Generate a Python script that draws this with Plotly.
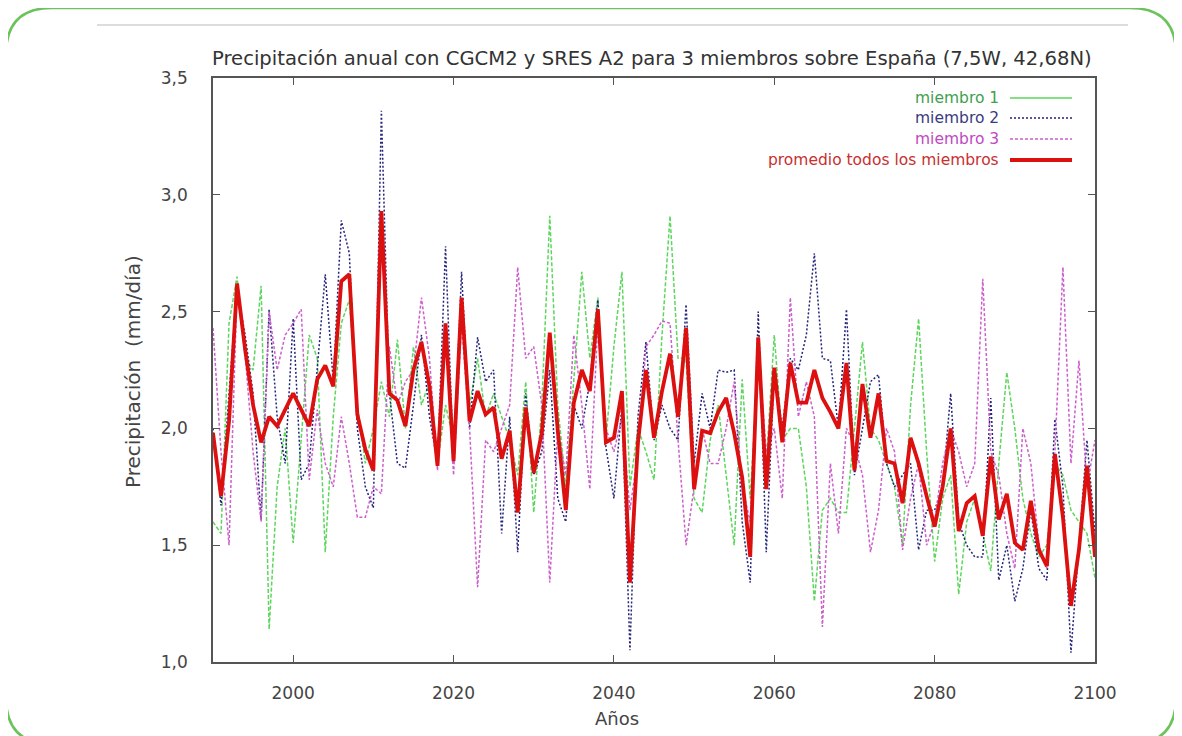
import plotly.graph_objects as go

years = list(range(1990, 2101))

miembro_1 = [1.60, 1.55, 2.45, 2.65, 2.30, 2.25, 2.61, 1.14, 1.75, 2.00,
             1.51, 1.95, 2.40, 2.30, 1.47, 2.05, 2.45, 2.55, 2.10, 1.85,
             2.00, 2.20, 2.05, 2.38, 2.00, 2.35, 2.10, 2.20, 1.85, 2.10,
             1.95, 2.55, 2.10, 2.30, 2.05, 2.15, 2.05, 1.95, 1.80, 2.20,
             1.64, 2.10, 2.91, 2.10, 1.75, 2.20, 2.67, 2.30, 2.56, 1.95,
             2.35, 2.67, 1.75, 2.00, 1.90, 1.78, 2.40, 2.91, 2.30, 2.30,
             1.70, 1.64, 1.95, 2.10, 1.80, 1.50, 2.21, 1.70, 2.30, 1.85,
             2.40, 1.95, 2.00, 2.00, 1.75, 1.26, 1.65, 1.70, 1.64, 1.64,
             2.00, 2.37, 2.00, 1.95, 1.85, 1.75, 1.50, 2.10, 2.47, 1.90,
             1.43, 1.70, 1.80, 1.29, 1.60, 1.70, 1.55, 1.39, 1.85, 2.24,
             2.00, 1.70, 1.55, 1.45, 1.50, 1.85, 1.80, 1.65, 1.60, 1.55,
             1.36]

miembro_2 = [2.00, 1.67, 2.15, 2.60, 2.40, 2.15, 1.61, 2.51, 2.05, 1.85,
             2.47, 1.78, 1.85, 2.25, 2.66, 2.20, 2.89, 2.75, 2.00, 1.75,
             1.66, 3.36, 2.15, 1.85, 1.83, 2.10, 2.40, 2.05, 1.85, 2.78,
             1.85, 2.67, 2.00, 2.39, 2.20, 2.25, 1.55, 2.05, 1.47, 2.15,
             1.80, 1.90, 2.25, 1.70, 1.60, 2.10, 2.00, 2.20, 2.55, 1.92,
             1.70, 2.10, 1.05, 2.05, 2.37, 1.95, 2.10, 2.00, 1.95, 2.53,
             1.85, 2.15, 2.00, 2.25, 2.24, 2.25, 1.60, 1.34, 2.50, 1.47,
             2.25, 2.00, 2.30, 2.25, 2.40, 2.75, 2.30, 2.29, 2.00, 2.51,
             1.80, 2.00, 2.20, 2.23, 1.85, 1.75, 1.80, 1.85, 1.48, 1.65,
             1.65, 1.75, 2.15, 1.60, 1.50, 1.45, 1.45, 2.13, 1.35, 1.50,
             1.26, 1.40, 1.65, 1.40, 1.35, 2.04, 1.75, 1.04, 1.50, 1.95,
             1.55]

miembro_3 = [2.43, 1.90, 1.50, 2.60, 2.32, 1.90, 1.60, 2.50, 2.25, 2.40,
             2.45, 2.51, 1.78, 2.08, 1.85, 1.75, 2.05, 1.85, 1.62, 1.62,
             1.75, 1.72, 2.35, 2.10, 2.20, 2.25, 2.56, 2.30, 1.82, 2.45,
             1.80, 2.45, 2.00, 1.32, 1.95, 1.90, 2.00, 2.10, 2.69, 2.30,
             2.35, 2.10, 1.34, 2.00, 1.80, 2.40, 2.10, 1.74, 2.45, 2.00,
             1.90, 2.05, 1.65, 1.90, 2.35, 2.40, 2.46, 2.45, 1.95, 1.50,
             1.75, 2.00, 1.85, 1.85, 2.00, 2.20, 1.75, 1.60, 2.35, 1.90,
             2.00, 1.70, 2.56, 2.05, 2.20, 2.05, 1.15, 1.85, 1.55, 2.00,
             1.93, 1.80, 1.47, 1.65, 2.00, 1.90, 1.48, 1.70, 1.85, 1.50,
             1.60, 1.85, 2.00, 1.90, 1.75, 1.85, 2.64, 1.90, 1.80, 1.55,
             1.40, 2.00, 1.85, 1.50, 1.40, 1.90, 2.69, 1.85, 2.29, 1.75,
             1.95]

promedio = [1.98, 1.71, 2.03, 2.62, 2.34, 2.10, 1.94, 2.05, 2.01, 2.08,
            2.15, 2.08, 2.01, 2.21, 2.27, 2.18, 2.63, 2.66, 2.06, 1.91,
            1.82, 2.93, 2.15, 2.12, 2.01, 2.25, 2.37, 2.18, 1.84, 2.45,
            1.86, 2.56, 2.03, 2.16, 2.06, 2.09, 1.87, 1.99, 1.64, 2.09,
            1.81, 1.98, 2.41, 1.99, 1.65, 2.11, 2.25, 2.16, 2.51, 1.94,
            1.96, 2.16, 1.34, 1.94, 2.25, 1.96, 2.16, 2.32, 2.05, 2.43,
            1.74, 1.99, 1.98, 2.07, 2.13, 1.98, 1.79, 1.45, 2.39, 1.74,
            2.26, 1.94, 2.28, 2.11, 2.11, 2.25, 2.13, 2.07, 2.00, 2.28,
            1.82, 2.19, 1.96, 2.15, 1.86, 1.85, 1.68, 1.96, 1.85, 1.71,
            1.58, 1.75, 2.00, 1.56, 1.68, 1.71, 1.54, 1.88, 1.61, 1.72,
            1.51, 1.48, 1.69, 1.48, 1.41, 1.89, 1.62, 1.24, 1.48, 1.84,
            1.45]

y_ticks = [1.0, 1.5, 2.0, 2.5, 3.0, 3.5]
y_ticktext = ["1,0", "1,5", "2,0", "2,5", "3,0", "3,5"]
x_ticks = [2000, 2020, 2040, 2060, 2080, 2100]
x_ticktext = ["2000", "2020", "2040", "2060", "2080", "2100"]

series_names = ["miembro 1", "miembro 2", "miembro 3", "promedio todos los miembros"]

# page offset caused by the default 8px body margin
OFF = 8
PAGE_W, PAGE_H = 1182, 736
W, H = PAGE_W - OFF, PAGE_H - OFF
# plot area in page pixels
L, R, T, B = 213, 1095, 78, 662


def px(x):
    return (x - L) / (R - L)


def py(y):
    return (B - y) / (B - T)


C_G = "#5cd65c"
C_B = "#23237a"
C_M = "#cc5fcc"
C_R = "#dd1010"

fig = go.Figure()
fig.add_trace(go.Scatter(x=years, y=miembro_1, mode="lines", name=series_names[0],
                         line=dict(color=C_G, width=1.5, dash="4px,2px")))
fig.add_trace(go.Scatter(x=years, y=miembro_2, mode="lines", name=series_names[1],
                         line=dict(color=C_B, width=1.5, dash="2px,2px")))
fig.add_trace(go.Scatter(x=years, y=miembro_3, mode="lines", name=series_names[2],
                         line=dict(color=C_M, width=1.5, dash="3px,2px")))
fig.add_trace(go.Scatter(x=years, y=promedio, mode="lines", name=series_names[3],
                         line=dict(color=C_R, width=3.8)))

FONT = "DejaVu Sans"
TXT = "#444444"
axis_common = dict(showline=True, linecolor="#555555", linewidth=1.5, mirror="ticks",
                   ticks="inside", ticklen=7, tickcolor="#555555", tickwidth=1,
                   showgrid=False, zeroline=False,
                   tickfont=dict(family=FONT, size=17, color=TXT))

fig.update_xaxes(range=[1990, 2100], tickvals=x_ticks, ticktext=x_ticktext,
                 ticklabelstandoff=15, **axis_common)
fig.update_yaxes(range=[1.0, 3.5], tickvals=y_ticks, ticktext=y_ticktext,
                 ticklabelstandoff=20, **axis_common)

shapes = []
annotations = []

# legend (text on the left, sample line on the right)
leg_y = [98, 118, 139, 160]
leg_colors = [C_G, C_B, C_M, C_R]
leg_text_colors = ["#3f9f4f", "#3b3b80", "#c04ac0", "#c83030"]
leg_dash = ["solid", "2px,2px", "3px,2px", "solid"]
leg_w = [1.4, 1.6, 1.4, 4]
for name, yy, c, tc, d, w in zip(series_names, leg_y, leg_colors, leg_text_colors, leg_dash, leg_w):
    annotations.append(dict(x=px(1001), y=py(yy), xref="paper", yref="paper", text=name,
                            showarrow=False, xanchor="right", yanchor="middle",
                            font=dict(family=FONT, size=15.5, color=tc)))
    shapes.append(dict(type="line", xref="paper", yref="paper", x0=px(1010), x1=px(1072),
                       y0=py(yy), y1=py(yy), line=dict(color=c, width=w, dash=d)))

# title and axis titles
annotations.append(dict(x=px(652), y=py(58), xref="paper", yref="paper",
                        text="Precipitación anual con CGCM2 y SRES A2 para 3 miembros sobre España (7,5W, 42,68N)",
                        showarrow=False, xanchor="center", yanchor="middle",
                        font=dict(family=FONT, size=19.6, color="#333333")))
annotations.append(dict(x=px(133), y=py(372), xref="paper", yref="paper",
                        text="Precipitación  (mm/día)", textangle=-90,
                        showarrow=False, xanchor="center", yanchor="middle",
                        font=dict(family=FONT, size=20, color=TXT)))
annotations.append(dict(x=px(617), y=py(718), xref="paper", yref="paper",
                        text="Años",
                        showarrow=False, xanchor="center", yanchor="middle",
                        font=dict(family=FONT, size=18, color=TXT)))

# page decoration: top grey rule and green rounded frame
shapes.append(dict(type="line", xref="paper", yref="paper", x0=px(97), x1=px(1128),
                   y0=py(25), y1=py(25), line=dict(color="#dddddd", width=2)))
x0f, x1f, y0f, y1f, r = 6, 1176, 8, 744, 46
path = (f"M {px(x0f + r)},{py(y0f)} L {px(x1f - r)},{py(y0f)} "
        f"Q {px(x1f)},{py(y0f)} {px(x1f)},{py(y0f + r)} "
        f"L {px(x1f)},{py(y1f - r)} Q {px(x1f)},{py(y1f)} {px(x1f - r)},{py(y1f)} "
        f"L {px(x0f + r)},{py(y1f)} Q {px(x0f)},{py(y1f)} {px(x0f)},{py(y1f - r)} "
        f"L {px(x0f)},{py(y0f + r)} Q {px(x0f)},{py(y0f)} {px(x0f + r)},{py(y0f)} Z")
shapes.append(dict(type="path", xref="paper", yref="paper", path=path,
                   line=dict(color="#6cc35c", width=2.5), layer="below"))

fig.update_layout(width=W, height=H, autosize=False,
                  margin=dict(l=L - OFF, r=PAGE_W - R, t=T - OFF, b=PAGE_H - B, pad=0),
                  paper_bgcolor="white", plot_bgcolor="white",
                  showlegend=False, shapes=shapes, annotations=annotations,
                  font=dict(family=FONT))

fig.write_html("out.html")
